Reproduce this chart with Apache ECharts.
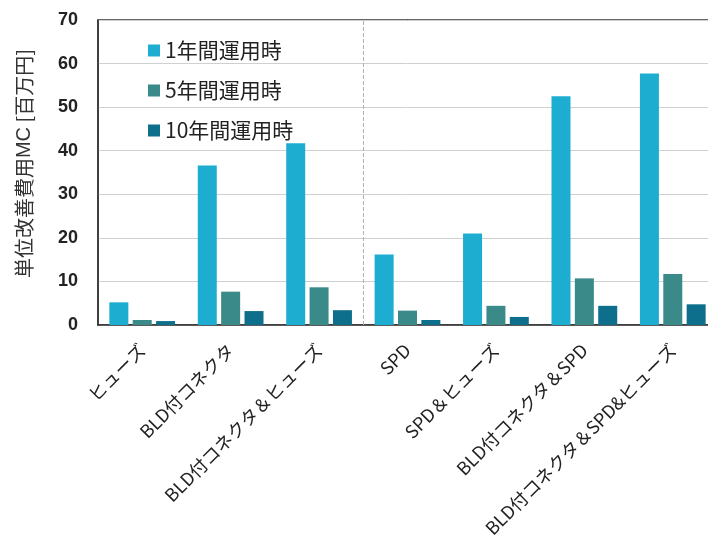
<!DOCTYPE html>
<html><head><meta charset="utf-8">
<script src="https://cdn.jsdelivr.net/npm/echarts@6/dist/echarts.min.js"></script>
<style>html,body{margin:0;padding:0;background:#fff;overflow:hidden;width:708px;height:549px}#c{width:730px;height:549px}</style>
</head><body><div id="c"></div>
<script>
const categories = ['ヒューズ','BLD付コネクタ','BLD付コネクタ＆ヒューズ','SPD','SPD＆ヒューズ','BLD付コネクタ＆SPD','BLD付コネクタ＆SPD&ヒューズ'];
const seriesNames = ['1年間運用時','5年間運用時','10年間運用時'];
const year1 = [5.2, 36.6, 41.7, 16.2, 21.0, 52.5, 57.7];
const year5 = [1.15, 7.65, 8.65, 3.3, 4.4, 10.7, 11.7];
const year10 = [0.9, 3.2, 3.4, 1.15, 1.85, 4.4, 4.75];
const yTicks = [0, 10, 20, 30, 40, 50, 60, 70];
const dividerAfter = 3; // dashed divider between the 3rd and 4th category
const colors = ['#1cadd1', '#3a8a8a', '#0e6f8c'];

const chart = echarts.init(document.getElementById('c'));
const font = '"Noto Sans CJK JP", "Noto Sans", sans-serif';
const latin = '"Liberation Sans", Arial, sans-serif';
const series = [year1, year5, year10].map((d, k) => ({
  name: seriesNames[k], type: 'bar', data: d, barWidth: 19, barGap: '23%',
  itemStyle: {color: colors[k]}
}));
series.push({
  type: 'line', xAxisIndex: 1, data: [], silent: true,
  markLine: {symbol: 'none', silent: true, label: {show: false},
    lineStyle: {color: '#aab4bb', type: 'dashed', width: 1},
    data: [{xAxis: dividerAfter}]}
});
chart.setOption({
  animation: false,
  textStyle: {fontFamily: font},
  grid: {left: 98, top: 20, width: 619, height: 305, show: true, borderColor: '#333', borderWidth: 1.5, backgroundColor: 'transparent'},
  legend: {
    orient: 'vertical', left: 143, top: 35, itemWidth: 12, itemHeight: 12, itemGap: 19,
    textStyle: {fontSize: 21, color: '#222', fontFamily: font},
    data: seriesNames, icon: 'rect'
  },
  xAxis: [{
    type: 'category', data: categories,
    axisLine: {lineStyle: {color: '#333', width: 1.5}},
    axisTick: {show: false},
    axisLabel: {rotate: 45, interval: 0, fontSize: 18, color: '#222', margin: 22, fontFamily: font}
  }, {
    type: 'value', min: 0, max: categories.length, show: false
  }],
  yAxis: {
    type: 'value', min: yTicks[0], max: yTicks[yTicks.length - 1], interval: 10,
    name: '単位改善費用{i|MC} [百万円]', nameLocation: 'middle', nameGap: 64, nameRotate: 90,
    nameTextStyle: {fontSize: 20, color: '#333', fontFamily: font, padding: [0, 0, 0, 18],
      rich: {i: {fontSize: 20, color: '#333', fontFamily: latin}}},
    axisLine: {show: true, lineStyle: {color: '#333', width: 1.5}},
    axisTick: {show: false},
    splitLine: {lineStyle: {color: '#d0d0d0', width: 1}},
    axisLabel: {fontSize: 18, fontWeight: 'bold', color: '#222', margin: 20, fontFamily: latin}
  },
  series: series
});
</script></body></html>
